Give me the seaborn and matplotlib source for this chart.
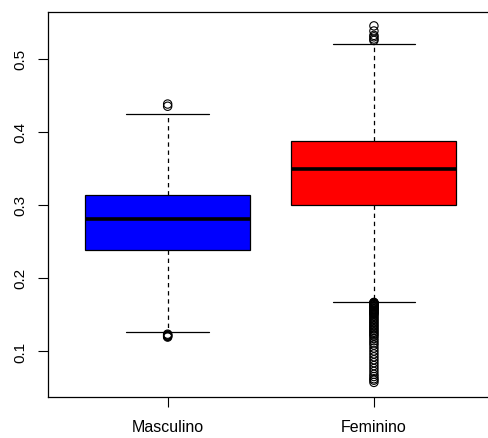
import pandas as pd

import matplotlib as mpl
import matplotlib.pyplot as plt

import seaborn as sns

sns.set_style("white")

mpl.rcParams["font.family"] = ["Liberation Sans", "DejaVu Sans"]
mpl.rcParams["font.size"] = 11
mpl.rcParams["text.color"] = "black"
mpl.rcParams["xtick.color"] = "black"
mpl.rcParams["ytick.color"] = "black"


# --------------------------------------------------
# Data
# --------------------------------------------------

groups = ["Masculino", "Feminino"]
box_colors = ["#0000FF", "#FF0000"]

# lower whisker, Q1, median, Q3, upper whisker
masc_box = [0.126, 0.238, 0.280, 0.314, 0.425]
fem_box = [0.167, 0.2995, 0.349, 0.388, 0.520]

masc_outliers = [0.119, 0.120, 0.121, 0.122, 0.123, 0.435, 0.438]
fem_outliers = [
    0.525, 0.527, 0.530, 0.532, 0.538, 0.545,
    0.1665, 0.166, 0.1655, 0.165, 0.1645, 0.164, 0.1635, 0.163,
    0.162, 0.161, 0.160, 0.159, 0.158, 0.157, 0.156, 0.155,
    0.154, 0.153, 0.152, 0.151, 0.150, 0.148, 0.146, 0.144,
    0.142, 0.140, 0.138, 0.136, 0.134, 0.132, 0.130, 0.128,
    0.126, 0.124, 0.122, 0.120, 0.117, 0.114, 0.111, 0.108,
    0.104, 0.100, 0.096, 0.092, 0.088, 0.084, 0.080, 0.076,
    0.072, 0.068, 0.065, 0.062, 0.060, 0.057
]

y_ticks = [0.1, 0.2, 0.3, 0.4, 0.5]


box_df = pd.DataFrame({
    "sexo": [groups[0]] * len(masc_box) + [groups[1]] * len(fem_box),
    "valor": masc_box + fem_box
})

out_df = pd.DataFrame({
    "sexo": [groups[0]] * len(masc_outliers)
    + [groups[1]] * len(fem_outliers),
    "valor": masc_outliers + fem_outliers
})


# --------------------------------------------------
# Figure
# --------------------------------------------------

fig = plt.figure(
    figsize=(4.88, 4.39),
    dpi=100
)

ax = fig.add_axes([0.0984, 0.0934, 0.913, 0.877])

sns.boxplot(
    data=box_df,
    x="sexo",
    y="valor",
    order=groups,
    hue="sexo",
    hue_order=groups,
    palette=box_colors,
    saturation=1,
    width=0.8,
    linecolor="black",
    linewidth=0.9,
    legend=False,
    medianprops={"linewidth": 2.6},
    whiskerprops={"linestyle": (0, (3.5, 3))},
    ax=ax
)

sns.stripplot(
    data=out_df,
    x="sexo",
    y="valor",
    order=groups,
    jitter=False,
    color="black",
    marker="o",
    facecolors="none",
    edgecolor="black",
    linewidth=0.8,
    size=6,
    ax=ax
)

ax.set_xlim(-0.58, 1.58)
ax.set_ylim(0.037, 0.564)

ax.set_yticks(y_ticks)
ax.set_yticklabels([f"{t:.1f}" for t in y_ticks], rotation=90, va="center")

ax.set_xlabel("")
ax.set_ylabel("")

for side in ["top", "bottom", "left", "right"]:
    ax.spines[side].set_visible(True)
    ax.spines[side].set_color("black")
    ax.spines[side].set_linewidth(0.9)

ax.tick_params(
    axis="both",
    direction="out",
    length=7,
    width=0.8,
    color="black",
    labelcolor="black",
    left=True,
    bottom=True,
    labelsize=11
)
ax.tick_params(axis="y", pad=8)
ax.tick_params(axis="x", labelsize=11.5, pad=9)

fig.savefig("out.png", dpi=100)
